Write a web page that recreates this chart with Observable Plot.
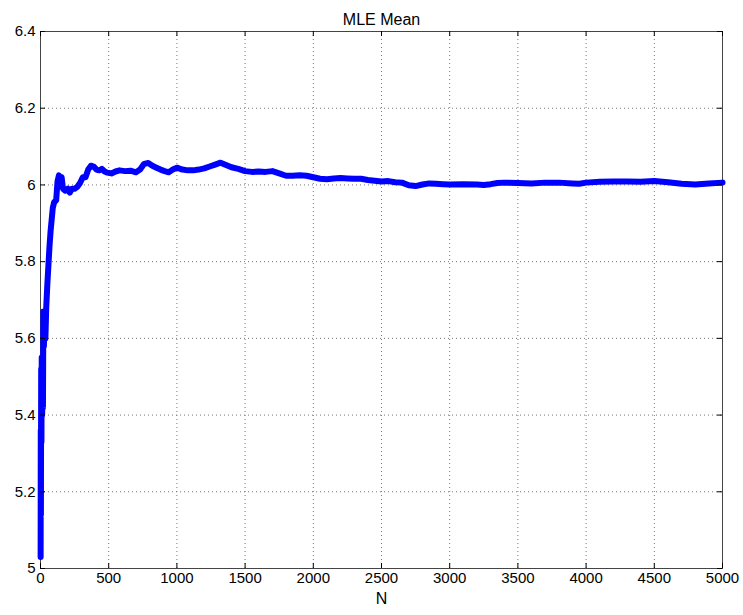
<!DOCTYPE html>
<html>
<head>
<meta charset="utf-8">
<script src="https://cdn.jsdelivr.net/npm/d3@7"></script>
<script src="https://cdn.jsdelivr.net/npm/@observablehq/plot@0.6"></script>
<style>
  html, body { margin: 0; padding: 0; background: #fff; }
  #chart svg { display: block; }
</style>
</head>
<body>
<div id="chart"></div>
<script>
// Running maximum-likelihood estimate of the mean versus sample count N
const sampleN = [
  1, 2, 3, 5, 7, 9, 12, 15, 18, 21, 25, 30, 36, 42, 50, 58, 66, 74, 82, 90,
  100, 115, 125, 135, 145, 155, 165, 180, 200, 215, 230, 250, 270, 290, 310, 330,
  350, 370, 390, 410, 430, 450, 470, 490, 520, 550, 580, 620, 660, 700, 730, 760,
  790, 820, 850, 880, 910, 940, 970, 1000, 1040, 1080, 1120, 1160, 1200, 1240,
  1280, 1320, 1360, 1400, 1450, 1500, 1550, 1600, 1650, 1700, 1750, 1800, 1850,
  1900, 1950, 2000, 2050, 2100, 2150, 2200, 2250, 2300, 2350, 2400, 2450, 2500,
  2550, 2600, 2650, 2700, 2750, 2800, 2850, 2900, 2950, 3000, 3100, 3200, 3250,
  3300, 3350, 3400, 3500, 3600, 3700, 3800, 3900, 3950, 4000, 4100, 4200, 4300,
  4400, 4500, 4600, 4700, 4800, 4900, 5000
];
const meanEstimate = [
  5.03, 5.36, 5.14, 5.52, 5.33, 5.55, 5.40, 5.47, 5.42, 5.67, 5.58, 5.65, 5.60, 5.68, 5.74, 5.79, 5.84, 5.88, 5.91, 5.94,
  5.955, 5.96, 6.01, 6.025, 6.015, 6.02, 5.99, 5.985, 5.99, 5.98, 5.99, 5.99, 5.995, 6.005, 6.02, 6.02,
  6.04, 6.05, 6.048, 6.04, 6.038, 6.042, 6.035, 6.032, 6.03, 6.035, 6.038, 6.036, 6.037, 6.033, 6.04, 6.055,
  6.057, 6.05, 6.045, 6.04, 6.036, 6.033, 6.04, 6.045, 6.04, 6.038, 6.038, 6.04, 6.043, 6.048,
  6.053, 6.058, 6.052, 6.046, 6.042, 6.036, 6.034, 6.035, 6.034, 6.036, 6.03, 6.024, 6.024,
  6.025, 6.024, 6.02, 6.016, 6.015, 6.017, 6.018, 6.017, 6.016, 6.016, 6.013, 6.011, 6.009,
  6.01, 6.007, 6.006, 5.999, 5.997, 6.001, 6.004, 6.003, 6.002, 6.001, 6.002, 6.001, 6.0,
  6.002, 6.005, 6.006, 6.005, 6.004, 6.006, 6.006, 6.004, 6.003, 6.006, 6.008, 6.009, 6.009,
  6.008, 6.01, 6.007, 6.003, 6.001, 6.004, 6.006
];
const xTicks = [0, 500, 1000, 1500, 2000, 2500, 3000, 3500, 4000, 4500, 5000];
const yTicks = [5, 5.2, 5.4, 5.6, 5.8, 6, 6.2, 6.4];
const titleText = "MLE Mean";
const xLabel = "N";

const data = sampleN.map((n, i) => ({n, mean: meanEstimate[i]}));

const width = 743, height = 615;
const margin = {top: 31, right: 21, bottom: 47, left: 40};
const innerW = width - margin.left - margin.right;
const innerH = height - margin.top - margin.bottom;
const tickLen = 5;
const font = "'Liberation Sans', Arial, Helvetica, sans-serif";
const gridStyle = {stroke: "#777", strokeOpacity: 1, strokeWidth: 1, strokeDasharray: "1,3"};

const chart = Plot.plot({
  width, height,
  marginTop: margin.top, marginRight: margin.right,
  marginBottom: margin.bottom, marginLeft: margin.left,
  style: {fontFamily: font, fontSize: "15px", background: "#fff", color: "#000"},
  x: {domain: [0, 5000]},
  y: {domain: [5, 6.4]},
  marks: [
    Plot.gridX(xTicks, gridStyle),
    Plot.gridY(yTicks, gridStyle),
    Plot.frame({stroke: "#444", strokeWidth: 1}),
    Plot.line(data, {x: "n", y: "mean", stroke: "#0000ff", strokeWidth: 6, strokeLinejoin: "round"}),
    // inward-pointing tick marks on all four sides
    Plot.ruleX(xTicks, {x: d => d, insetTop: innerH - tickLen, stroke: "#000"}),
    Plot.ruleX(xTicks, {x: d => d, insetBottom: innerH - tickLen, stroke: "#000"}),
    Plot.ruleY(yTicks, {y: d => d, insetRight: innerW - tickLen, stroke: "#000"}),
    Plot.ruleY(yTicks, {y: d => d, insetLeft: innerW - tickLen, stroke: "#000"}),
    Plot.axisX(xTicks, {tickSize: 0, tickPadding: 4, label: null, tickFormat: d => String(d), fontSize: 15}),
    Plot.axisY(yTicks, {tickSize: 0, tickPadding: 5, label: null, tickFormat: d3.format("~g"), fontSize: 15}),
    Plot.text([titleText], {frameAnchor: "top", dy: -18, fontSize: 16, fill: "#000"}),
    Plot.text([xLabel], {frameAnchor: "bottom", dy: 35, fontSize: 16, fill: "#000"})
  ]
});

document.getElementById("chart").append(chart);
</script>
</body>
</html>
